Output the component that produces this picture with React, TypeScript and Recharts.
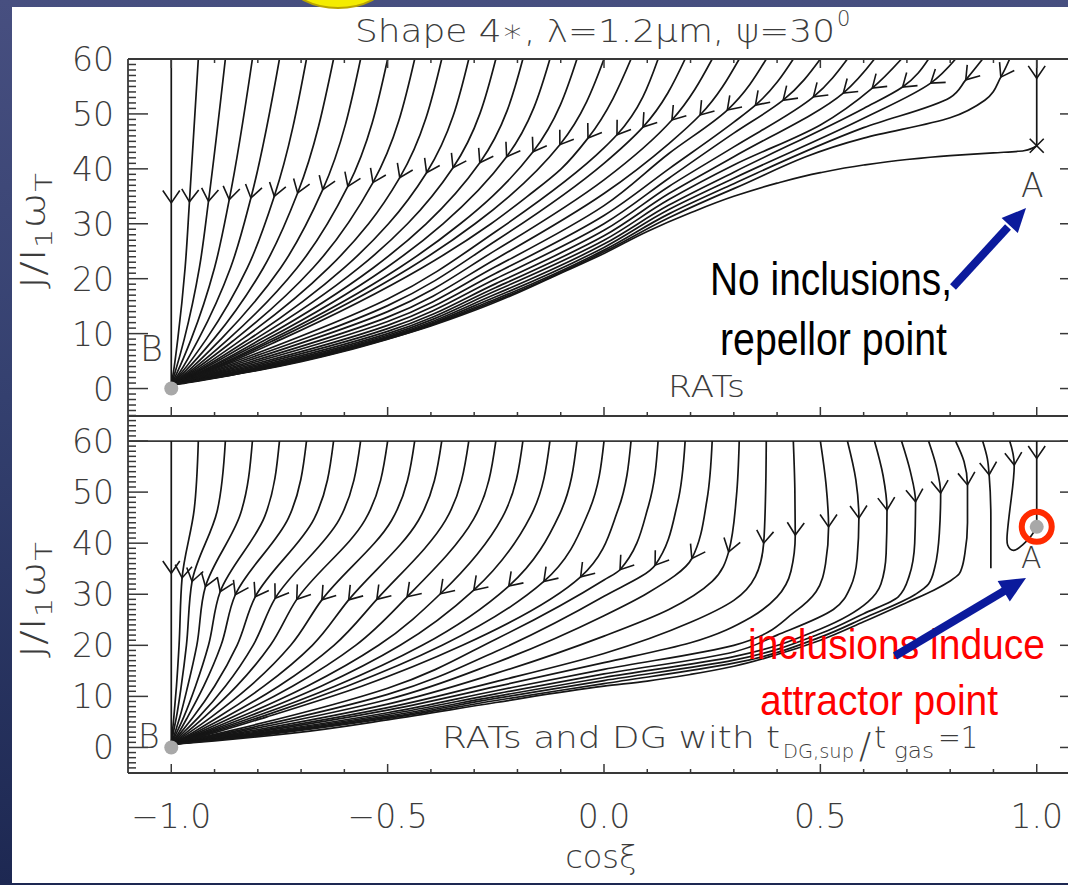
import React from "react";
import {
  ComposedChart,
  Line,
  XAxis,
  YAxis,
  ReferenceLine,
  ReferenceDot,
} from "recharts";

// ---- chart data ----

// cos(xi) ticks on the shared x axis
const xTicks = [-1, -0.9, -0.8, -0.7, -0.6, -0.5, -0.4, -0.3, -0.2, -0.1, 0, 0.1, 0.2, 0.3, 0.4, 0.5, 0.6, 0.7, 0.8, 0.9, 1];
const yMajor = [0, 10, 20, 30, 40, 50, 60];

// upper panel (RATs): trajectories [cosxi, J, arrow?] entering at J = 60
const ratsTracks: number[][][] = [
  [[-1, 60], [-1, 33.8, 1], [-1, 0]],
  [[-0.9375, 60], [-0.958, 34.0, 1], [-0.968, 22], [-0.985, 9], [-0.995, 3], [-1, 0.7]],
  [[-0.875, 60], [-0.914, 34.1, 1], [-0.935, 22], [-0.97, 9], [-0.991, 3], [-1, 0.7]],
  [[-0.8125, 60], [-0.866, 34.4, 1], [-0.9, 22], [-0.954, 9], [-0.986, 3], [-1, 0.7]],
  [[-0.75, 60], [-0.816, 34.7, 1], [-0.863, 22], [-0.937, 9], [-0.98, 3], [-1, 0.7]],
  [[-0.6875, 60], [-0.762, 35.0, 1], [-0.824, 22], [-0.919, 9], [-0.975, 3], [-1, 0.7]],
  [[-0.625, 60], [-0.708, 35.6, 1], [-0.787, 22], [-0.902, 9], [-0.97, 3], [-1, 0.7]],
  [[-0.5625, 60], [-0.65, 36.2, 1], [-0.747, 22], [-0.885, 9], [-0.964, 3], [-1, 0.7]],
  [[-0.5, 60], [-0.592, 36.8, 1], [-0.709, 22], [-0.868, 9], [-0.959, 3], [-1, 0.7]],
  [[-0.4375, 60], [-0.534, 37.5, 1], [-0.672, 22], [-0.852, 9], [-0.954, 3], [-1, 0.7]],
  [[-0.375, 60], [-0.472, 38.4, 1], [-0.544, 30], [-0.636, 22], [-0.836, 9], [-0.949, 3], [-1, 0.7]],
  [[-0.3125, 60], [-0.41, 39.3, 1], [-0.498, 30], [-0.6, 22], [-0.82, 9], [-0.944, 3], [-1, 0.7]],
  [[-0.25, 60], [-0.349, 40.2, 1], [-0.454, 30], [-0.566, 22], [-0.806, 9], [-0.94, 3], [-1, 0.7]],
  [[-0.1875, 60], [-0.287, 41.1, 1], [-0.411, 30], [-0.533, 22], [-0.792, 9], [-0.935, 3], [-1, 0.7]],
  [[-0.125, 60], [-0.225, 42.2, 1], [-0.372, 30], [-0.503, 22], [-0.779, 9], [-0.932, 3], [-1, 0.7]],
  [[-0.0625, 60], [-0.164, 43.1, 1], [-0.258, 35], [-0.332, 30], [-0.473, 22], [-0.767, 9], [-0.928, 3], [-1, 0.7]],
  [[0, 60], [-0.102, 44.4, 1], [-0.219, 35], [-0.298, 30], [-0.448, 22], [-0.757, 9], [-0.925, 3], [-1, 0.7]],
  [[0.0625, 60], [-0.037, 45.6, 1], [-0.099, 40], [-0.177, 35], [-0.261, 30], [-0.42, 22], [-0.745, 9], [-0.921, 3], [-1, 0.7]],
  [[0.125, 60], [0.03, 46.2, 1], [0, 43.8], [-0.25, 28.6], [-0.5, 16.3], [-0.85, 5.0], [-1, 0.7]],
  [[0.1875, 60], [0.09, 47.6, 1], [0, 41.0], [-0.25, 26.9], [-0.5, 15.1], [-0.85, 4.7], [-1, 0.7]],
  [[0.25, 60], [0.157, 48.9, 1], [0, 38.0], [-0.25, 25.2], [-0.5, 14.0], [-0.85, 4.4], [-1, 0.7]],
  [[0.3125, 60], [0.222, 49.8, 1], [0.15, 44.6], [0, 35.5], [-0.25, 23.6], [-0.5, 13.0], [-0.85, 4.1], [-1, 0.7]],
  [[0.375, 60], [0.285, 50.7, 1], [0.15, 42.8], [0, 33.3], [-0.25, 22.2], [-0.5, 12.2], [-0.85, 3.85], [-1, 0.7]],
  [[0.4375, 60], [0.35, 51.6, 1], [0.3, 48.5], [0.15, 40.0], [0, 31.5], [-0.25, 21.0], [-0.5, 11.5], [-0.85, 3.6], [-1, 0.7]],
  [[0.5, 60], [0.414, 52.5, 1], [0.3, 46.5], [0.15, 38.3], [0, 30.0], [-0.25, 20.0], [-0.5, 10.9], [-0.85, 3.4], [-1, 0.7]],
  [[0.5625, 60], [0.484, 53.1, 1], [0.3, 44.0], [0.15, 36.8], [0, 28.8], [-0.25, 19.1], [-0.5, 10.4], [-0.85, 3.2], [-1, 0.7]],
  [[0.625, 60], [0.553, 53.8, 1], [0.3, 42.2], [0.15, 35.5], [0, 27.8], [-0.25, 18.4], [-0.5, 10.0], [-0.85, 3.05], [-1, 0.7]],
  [[0.6875, 60], [0.62, 54.7, 1], [0.5, 48.0], [0.3, 40.7], [0.15, 34.4], [0, 27.0], [-0.25, 17.8], [-0.5, 9.7], [-0.85, 2.92], [-1, 0.7]],
  [[0.75, 60], [0.69, 54.9, 1], [0.6, 51.0], [0.3, 39.4], [0.15, 33.4], [0, 26.3], [-0.25, 17.2], [-0.5, 9.45], [-0.85, 2.82], [-1, 0.7]],
  [[0.8125, 60], [0.755, 55.6, 1], [0.6, 49.2], [0.3, 38.3], [0.15, 32.6], [0, 25.7], [-0.25, 16.7], [-0.5, 9.27], [-0.85, 2.74], [-1, 0.7]],
  [[0.875, 60], [0.836, 56.2, 1], [0.8, 53.0], [0.6, 47.5], [0.3, 37.3], [0.15, 31.8], [0, 25.2], [-0.25, 16.3], [-0.5, 9.14], [-0.85, 2.68], [-1, 0.7]],
  [[0.9375, 60], [0.917, 56.7, 1], [0.88, 52.5], [0.8, 49.3], [0.6, 45.6], [0.3, 36.4], [0.15, 31.1], [0, 24.9], [-0.25, 16.0], [-0.5, 9.05], [-0.85, 2.64], [-1, 0.7]],
  [[1, 60], [1, 56.5, 1], [1, 44.2]],
];

// separatrix leaving the repellor A
const ratsSeparatrix: number[][] = [
  [1, 44.2], [0.97, 43.3], [0.9, 42.9], [0.8, 42.4], [0.7, 41.7], [0.6, 40.7], [0.5, 39.3],
  [0.4, 37.4], [0.3, 35.0], [0.2, 32.0], [0.1, 28.6], [0, 24.6], [-0.1, 21.0], [-0.2, 17.4],
  [-0.3, 14.2], [-0.4, 11.4], [-0.5, 9.0], [-0.6, 6.8], [-0.7, 4.9], [-0.8, 3.3], [-0.9, 1.9],
  [-0.95, 1.2], [-1, 0.6],
];

// lower panel (RATs + DG)
const dgTracks: number[][][] = [
  [[-1, 60], [-1, 34.1, 1], [-1, 0]],
  [[-0.9375, 60], [-0.947, 46.6], [-0.975, 33.2, 1], [-0.982, 20], [-0.988, 12], [-0.994, 6], [-1, 0.6]],
  [[-0.875, 60], [-0.894, 46.25], [-0.952, 32.5, 1], [-0.965, 20], [-0.977, 12], [-0.988, 6], [-0.995, 3], [-1, 0.6]],
  [[-0.8125, 60], [-0.84, 45.75], [-0.921, 31.5, 1], [-0.941, 20], [-0.962, 12], [-0.98, 6], [-0.991, 3], [-1, 0.6]],
  [[-0.75, 60], [-0.784, 45.25], [-0.887, 30.5, 1], [-0.914, 20], [-0.944, 12], [-0.971, 6], [-0.987, 3], [-1, 0.6]],
  [[-0.6875, 60], [-0.729, 44.95], [-0.852, 29.9, 1], [-0.885, 20], [-0.925, 12], [-0.962, 6], [-0.982, 3], [-1, 0.6]],
  [[-0.625, 60], [-0.67, 44.75], [-0.806, 29.5, 1], [-0.848, 20], [-0.9, 12], [-0.949, 6], [-0.977, 3], [-1, 0.6]],
  [[-0.5625, 60], [-0.612, 44.6], [-0.76, 29.2, 1], [-0.811, 20], [-0.875, 12], [-0.936, 6], [-0.971, 3], [-1, 0.6]],
  [[-0.5, 60], [-0.5525, 44.5], [-0.71, 29.0, 1], [-0.771, 20], [-0.849, 12], [-0.923, 6], [-0.964, 3], [-1, 0.6]],
  [[-0.4375, 60], [-0.491, 44.45], [-0.652, 28.9, 1], [-0.724, 20], [-0.818, 12], [-0.907, 6], [-0.957, 3], [-1, 0.6]],
  [[-0.375, 60], [-0.429, 44.45], [-0.59, 28.9, 1], [-0.674, 20], [-0.786, 12], [-0.89, 6], [-0.949, 3], [-1, 0.6]],
  [[-0.3125, 60], [-0.366, 44.5], [-0.525, 29.0, 1], [-0.624, 20], [-0.752, 12], [-0.873, 6], [-0.942, 3], [-1, 0.6]],
  [[-0.25, 60], [-0.301, 44.75], [-0.455, 29.5, 1], [-0.574, 20], [-0.72, 12], [-0.857, 6], [-0.934, 3], [-1, 0.6]],
  [[-0.1875, 60], [-0.235, 45.05], [-0.378, 30.1, 1], [-0.521, 20], [-0.686, 12], [-0.84, 6], [-0.926, 3], [-1, 0.6]],
  [[-0.125, 60], [-0.169, 45.4], [-0.301, 30.8, 1], [-0.471, 20], [-0.654, 12], [-0.824, 6], [-0.919, 3], [-1, 0.6]],
  [[-0.0625, 60], [-0.102, 45.8], [-0.22, 31.6, 1], [-0.42, 20], [-0.622, 12], [-0.808, 6], [-0.912, 3], [-1, 0.6]],
  [[0, 60], [-0.035, 46.25], [-0.139, 32.5, 1], [-0.374, 20], [-0.594, 12], [-0.793, 6], [-0.905, 3], [-1, 0.6]],
  [[0.0625, 60], [0.033, 46.7], [-0.054, 33.4, 1], [-0.327, 20], [-0.56, 12], [-0.779, 6], [-0.895, 3], [-1, 0.6]],
  [[0.125, 60], [0.103, 47.4], [0.037, 34.8, 1], [0, 32.8], [-0.25, 21.2], [-0.5, 11.6], [-0.85, 3.55], [-1, 0.6]],
  [[0.1875, 60], [0.17, 47.85], [0.118, 35.7, 1], [0, 29.6], [-0.25, 18.8], [-0.5, 10.4], [-0.85, 3.25], [-1, 0.6]],
  [[0.25, 60], [0.238, 48.5], [0.203, 37.0, 1], [0.1, 30.2], [0, 25.8], [-0.25, 16.6], [-0.5, 9.4], [-0.85, 3.0], [-1, 0.6]],
  [[0.3125, 60], [0.306, 49.15], [0.288, 38.3, 1], [0.25, 32.5], [0.15, 27.0], [0, 21.8], [-0.25, 14.5], [-0.5, 8.5], [-0.85, 2.75], [-1, 0.6]],
  [[0.375, 60], [0.3735, 50.0], [0.369, 40.0, 1], [0.35, 33.5], [0.3, 28.8], [0.2, 24.5], [0, 18.4], [-0.25, 12.9], [-0.5, 7.8], [-0.85, 2.55], [-1, 0.6]],
  [[0.4375, 60], [0.441, 50.8], [0.442, 41.6, 1], [0.432, 34.5], [0.4, 29.5], [0.34, 25.5], [0.2, 20.5], [0, 16.6], [-0.25, 11.9], [-0.5, 7.3], [-0.85, 2.4], [-1, 0.6]],
  [[0.5, 60], [0.513, 51.6], [0.519, 43.2, 1], [0.512, 36], [0.49, 30.5], [0.44, 26.5], [0.3, 20.0], [0, 15.3], [-0.25, 11.1], [-0.5, 6.8], [-0.85, 2.25], [-1, 0.6]],
  [[0.5625, 60], [0.582, 52.4], [0.589, 44.9, 1], [0.585, 37], [0.57, 31.5], [0.53, 27.0], [0.4, 22.0], [0.3, 18.7], [0, 14.4], [-0.25, 10.5], [-0.5, 6.45], [-0.85, 2.15], [-1, 0.6]],
  [[0.625, 60], [0.645, 53.2], [0.654, 46.5, 1], [0.652, 38], [0.64, 32], [0.61, 28.5], [0.5, 23.2], [0.3, 17.8], [0, 13.7], [-0.25, 10.0], [-0.5, 6.15], [-0.85, 2.05], [-1, 0.6]],
  [[0.6875, 60], [0.708, 54], [0.72, 48.1, 1], [0.718, 40], [0.705, 33.5], [0.68, 29.5], [0.6, 26.2], [0.5, 22.3], [0.3, 17.1], [0, 13.1], [-0.25, 9.6], [-0.5, 5.9], [-0.85, 1.95], [-1, 0.6]],
  [[0.75, 60], [0.768, 55], [0.778, 49.8, 1], [0.775, 42], [0.765, 35.5], [0.75, 32.0], [0.72, 30.0], [0.6, 25.3], [0.5, 21.6], [0.3, 16.5], [0, 12.5], [-0.25, 9.2], [-0.5, 5.7], [-0.85, 1.85], [-1, 0.6]],
  [[0.8125, 60], [0.832, 56], [0.84, 51.4, 1], [0.84, 44], [0.834, 38], [0.827, 35.2], [0.821, 34.0], [0.8, 32.6], [0.762, 30.8], [0.7, 28.4], [0.6, 24.6], [0.5, 21.0], [0.4, 18.2], [0.3, 15.9], [0.2, 14.3], [0.1, 13.0], [0, 12.0], [-0.25, 8.8], [-0.5, 5.4], [-0.72, 2.8], [-0.9, 1.3], [-1, 0.6]],
  [[0.875, 60], [0.886, 56.5], [0.89, 53.4, 1], [0.894, 45], [0.894, 35.1]],
  [[0.9375, 60], [0.948, 55.3, 1], [0.94, 48], [0.932, 42], [0.933, 39.6], [0.947, 38.6], [0.968, 39.7], [0.987, 41.4], [1, 43.2]],
  [[1, 60], [1, 56.6, 1], [1, 43.3]],
];

const sinkB = [-1, 0];
const repellorA = [1, 44.2];
const attractorA = [1, 43.2];

// ---- styling ----
const FONT = "'DejaVu Sans', 'Noto Sans', sans-serif";
const NARROW = "'Liberation Sans Narrow', 'Liberation Sans', Arial, sans-serif";
const INK = "#161616";
const AXIS = "#383838";
const LABEL = "#3c3c3c";
const SX = 952 / 2.2; // px per unit cos(xi)
const SY_TOP = 357 / 65;
const SY_BOT = 357.5 / 70;

const isMajorX = (v: number) => Math.abs(v * 2 - Math.round(v * 2)) < 1e-6;
const fmtX = (v: number) => (v < -1e-9 ? "\u2212" : "") + Math.abs(v).toFixed(1);

function range(a: number, b: number) {
  const out: number[] = [];
  for (let v = a; v <= b; v++) out.push(v);
  return out;
}

function unit(dx: number, dy: number) {
  const n = Math.hypot(dx, dy) || 1;
  return [dx / n, dy / n];
}

// open "V" arrowhead on the flagged point, pointing along the track
function arrowHead(track: number[][], sy: number) {
  return (props: any) => {
    const { cx, cy, index } = props;
    const key = `ah-${index}`;
    const p = track[index];
    if (!p || !p[2] || typeof cx !== "number") return <g key={key} />;
    const a = track[Math.max(0, index - 1)];
    const b = track[Math.min(track.length - 1, index + 1)];
    const din = unit((p[0] - a[0]) * SX, (a[1] - p[1]) * sy);
    const dout = unit((b[0] - p[0]) * SX, (p[1] - b[1]) * sy);
    const d = unit(0.6 * din[0] + 0.4 * dout[0], 0.6 * din[1] + 0.4 * dout[1]);
    const bx = -d[0];
    const by = -d[1];
    const c = Math.cos(0.6);
    const s = Math.sin(0.6);
    const L = 15;
    const x1 = cx + L * (bx * c - by * s);
    const y1 = cy + L * (bx * s + by * c);
    const x2 = cx + L * (bx * c + by * s);
    const y2 = cy + L * (-bx * s + by * c);
    return (
      <polyline
        key={key}
        points={`${x1},${y1} ${cx},${cy} ${x2},${y2}`}
        fill="none"
        stroke={INK}
        strokeWidth={1.6}
      />
    );
  };
}

const monoY = (t: number[][]) => t.every((p, i) => i === 0 || p[1] < t[i - 1][1]);

function trackLines(tracks: number[][][], sy: number, prefix: string) {
  return tracks.map((t, i) => (
    <Line
      key={`${prefix}${i}`}
      data={t.map((p) => ({ x: p[0], y: p[1] }))}
      dataKey="y"
      type={monoY(t) ? "monotoneY" : "natural"}
      stroke={INK}
      strokeWidth={1.7}
      dot={arrowHead(t, sy)}
      activeDot={false}
      isAnimationActive={false}
    />
  ));
}

function YTickLeft(props: any) {
  const { x, y, payload } = props;
  const v = payload.value;
  const major = v % 10 === 0;
  return (
    <g>
      <line x1={x} x2={x + (major ? 20 : 8)} y1={y} y2={y} stroke={AXIS} strokeWidth={1.5} />
      {major && v >= 0 && v <= 60 && (
        <text x={x - 14} y={y + 12} textAnchor="end" fontSize={33} fontFamily={FONT} fontWeight={300} fill={LABEL}>
          {v}
        </text>
      )}
    </g>
  );
}

function YTickRight(props: any) {
  const { x, y } = props;
  return <line x1={x} x2={x - 20} y1={y} y2={y} stroke={AXIS} strokeWidth={1.5} />;
}

function XTickUp(props: any) {
  const { x, y, payload } = props;
  return <line x1={x} x2={x} y1={y} y2={y - (isMajorX(payload.value) ? 9 : 4)} stroke={AXIS} strokeWidth={1.5} />;
}

function XTickDown(props: any) {
  const { x, y, payload } = props;
  return <line x1={x} x2={x} y1={y} y2={y + (isMajorX(payload.value) ? 9 : 4)} stroke={AXIS} strokeWidth={1.5} />;
}

function XTickLabelled(props: any) {
  const { x, y, payload } = props;
  const v = payload.value;
  const major = isMajorX(v);
  return (
    <g>
      <line x1={x} x2={x} y1={y} y2={y - (major ? 9 : 4)} stroke={AXIS} strokeWidth={1.5} />
      {major && (
        <text x={x} y={y + 55} textAnchor="middle" fontSize={33} fontFamily={FONT} fontWeight={300} fill={LABEL}>
          {fmtX(v)}
        </text>
      )}
    </g>
  );
}

const axisLine = { stroke: AXIS, strokeWidth: 1.8 };

function YTitle({ cy }: { cy: number }) {
  return (
    <text
      transform={`translate(45,${cy}) rotate(-90)`}
      textAnchor="middle"
      fontSize={33}
      fontFamily={FONT}
      fontWeight={300}
      fill={LABEL}
      textLength={116}
      lengthAdjust="spacingAndGlyphs"
    >
      J/I
      <tspan fontSize={23} dy={7}>1</tspan>
      <tspan dy={-7}>{"\u03c9"}</tspan>
      <tspan fontSize={23} dy={7}>T</tspan>
    </text>
  );
}

export default function App() {
  return (
    <div
      style={{
        position: "fixed",
        left: 0,
        top: 0,
        width: 1068,
        height: 885,
        overflow: "hidden",
        background: "linear-gradient(180deg, #474f80 0%, #34406f 45%, #1d2852 100%)",
      }}
    >
      <div style={{ position: "absolute", left: 12, top: 7, width: 1060, height: 876, background: "#ffffff" }} />

      {/* upper panel: RATs */}
      <ComposedChart
        width={1140}
        height={470}
        margin={{ top: 29, right: 0, bottom: 24, left: 68 }}
        style={{ position: "absolute", left: 0, top: 0 }}
      >
        <XAxis dataKey="x" type="number" domain={[-1.1, 1.1]} ticks={xTicks} interval={0} height={30}
          tickLine={false} tickSize={0} tickMargin={0} axisLine={axisLine} tick={<XTickUp />} allowDataOverflow />
        <XAxis xAxisId="top" orientation="top" dataKey="x" type="number" domain={[-1.1, 1.1]} ticks={xTicks}
          interval={0} height={30} tickLine={false} tickSize={0} tickMargin={0} axisLine={axisLine} tick={<XTickDown />} allowDataOverflow />
        <YAxis dataKey="y" type="number" domain={[-5, 60]} ticks={range(-5, 60)} interval={0} width={60}
          tickLine={false} tickSize={0} tickMargin={0} axisLine={axisLine} tick={<YTickLeft />} allowDataOverflow />
        <YAxis yAxisId="right" orientation="right" type="number" domain={[-5, 60]} ticks={yMajor} interval={0}
          width={60} tickLine={false} tickSize={0} tickMargin={0} axisLine={axisLine} tick={<YTickRight />} allowDataOverflow />
        {trackLines(ratsTracks, SY_TOP, "r")}
        <Line data={ratsSeparatrix.map((p) => ({ x: p[0], y: p[1] }))} dataKey="y" type="monotoneY" stroke={INK}
          strokeWidth={1.7} dot={false} activeDot={false} isAnimationActive={false} />
        <ReferenceDot x={sinkB[0]} y={sinkB[1]} r={7} fill="#a8a8a8" stroke="none" ifOverflow="visible" />
        <ReferenceDot
          x={repellorA[0]}
          y={repellorA[1]}
          ifOverflow="visible"
          shape={(p: any) => (
            <path d={`M${p.cx - 7},${p.cy - 7}L${p.cx + 7},${p.cy + 7}M${p.cx - 7},${p.cy + 7}L${p.cx + 7},${p.cy - 7}`}
              stroke={INK} strokeWidth={1.6} />
          )}
        />
      </ComposedChart>

      {/* lower panel: RATs and DG */}
      <ComposedChart
        width={1140}
        height={885}
        margin={{ top: 415.5, right: 0, bottom: 82, left: 68 }}
        style={{ position: "absolute", left: 0, top: 0 }}
      >
        <XAxis dataKey="x" type="number" domain={[-1.1, 1.1]} ticks={xTicks} interval={0} height={30}
          tickLine={false} tickSize={0} tickMargin={0} axisLine={axisLine} tick={<XTickLabelled />} allowDataOverflow />
        <YAxis dataKey="y" type="number" domain={[-5, 65]} ticks={range(-5, 65)} interval={0} width={60}
          tickLine={false} tickSize={0} tickMargin={0} axisLine={axisLine} tick={<YTickLeft />} allowDataOverflow />
        <YAxis yAxisId="right" orientation="right" type="number" domain={[-5, 65]} ticks={yMajor} interval={0}
          width={60} tickLine={false} tickSize={0} tickMargin={0} axisLine={axisLine} tick={<YTickRight />} allowDataOverflow />
        <ReferenceLine y={60} stroke={AXIS} strokeWidth={1.8} ifOverflow="visible" />
        {trackLines(dgTracks, SY_BOT, "d")}
        <ReferenceDot x={sinkB[0]} y={sinkB[1]} r={7} fill="#a8a8a8" stroke="none" ifOverflow="visible" />
        <ReferenceDot x={attractorA[0]} y={attractorA[1]} r={7} fill="#a8a8a8" stroke="none" ifOverflow="visible" />
        <ReferenceDot x={attractorA[0]} y={attractorA[1]} r={15} fill="none" stroke="#ff2a00" strokeWidth={6} ifOverflow="visible" />
      </ComposedChart>

      {/* texts and slide annotations */}
      <svg width={1068} height={885} style={{ position: "absolute", left: 0, top: 0, pointerEvents: "none" }}>
        <ellipse cx={338} cy={-16} rx={46} ry={24} fill="#f4ec00" stroke="#b9a400" strokeWidth={2} />
        <text x={355} y={42} fontSize={32} fontFamily={FONT} fontWeight={300} fill={LABEL} textLength={480} lengthAdjust="spacingAndGlyphs">
          Shape 4{"\u2217"}, {"\u03bb"}=1.2{"\u03bc"}m, {"\u03c8"}=30
        </text>
        <text x={837} y={26} fontSize={21} fontFamily={FONT} fontWeight={300} fill={LABEL}>0</text>

        <YTitle cy={231} />
        <YTitle cy={600} />

        <text x={140} y={361} fontSize={35} fontFamily={FONT} fontWeight={300} fill={LABEL}>B</text>
        <text x={1021} y={197} fontSize={33} fontFamily={FONT} fontWeight={300} fill={LABEL}>A</text>
        <text x={668} y={397} fontSize={31} fontFamily={FONT} fontWeight={300} fill={LABEL} textLength={77} lengthAdjust="spacingAndGlyphs">RATs</text>

        <text x={138} y={748} fontSize={33} fontFamily={FONT} fontWeight={300} fill={LABEL}>B</text>
        <text x={1021} y={568} fontSize={30} fontFamily={FONT} fontWeight={300} fill={LABEL}>A</text>
        <text x={442} y={748} fontSize={31} fontFamily={FONT} fontWeight={300} fill={LABEL} textLength={338} lengthAdjust="spacingAndGlyphs">RATs and DG with t</text>
        <text x={783} y={758} fontSize={20} fontFamily={FONT} fontWeight={300} fill={LABEL} textLength={71} lengthAdjust="spacingAndGlyphs">DG,sup</text>
        <text x={859} y={758} fontSize={36} fontFamily={FONT} fontWeight={300} fill={LABEL}>/</text>
        <text x={874} y={748} fontSize={31} fontFamily={FONT} fontWeight={300} fill={LABEL}>t</text>
        <text x={894} y={758} fontSize={21} fontFamily={FONT} fontWeight={300} fill={LABEL} textLength={40} lengthAdjust="spacingAndGlyphs">gas</text>
        <text x={938} y={748} fontSize={31} fontFamily={FONT} fontWeight={300} fill={LABEL} textLength={40} lengthAdjust="spacingAndGlyphs">=1</text>

        <text x={601} y={868} textAnchor="middle" fontSize={32} fontFamily={FONT} fontWeight={300} fill={LABEL}>cos{"\u03be"}</text>

        <text x={710} y={295} fontSize={46} fontFamily={NARROW} fill="#000" textLength={242} lengthAdjust="spacingAndGlyphs">No inclusions,</text>
        <text x={720} y={355} fontSize={46} fontFamily={NARROW} fill="#000" textLength={227} lengthAdjust="spacingAndGlyphs">repellor point</text>
        <line x1={953} y1={287} x2={1008} y2={227} stroke="#0b1a9c" strokeWidth={8} />
        <polygon points="1026,208 1017.8,233.1 1001.6,218.1" fill="#0b1a9c" />

        <text x={748} y={659} fontSize={42} fontFamily={NARROW} fill="#ff0000" textLength={297} lengthAdjust="spacingAndGlyphs">inclusions induce</text>
        <text x={760} y={715} fontSize={42} fontFamily={NARROW} fill="#ff0000" textLength={238} lengthAdjust="spacingAndGlyphs">attractor point</text>
        <line x1={895} y1={656} x2={1005} y2={590.5} stroke="#0b1a9c" strokeWidth={8} />
        <polygon points="1026,578 1009.8,601.6 997.6,581" fill="#0b1a9c" />
      </svg>
    </div>
  );
}
